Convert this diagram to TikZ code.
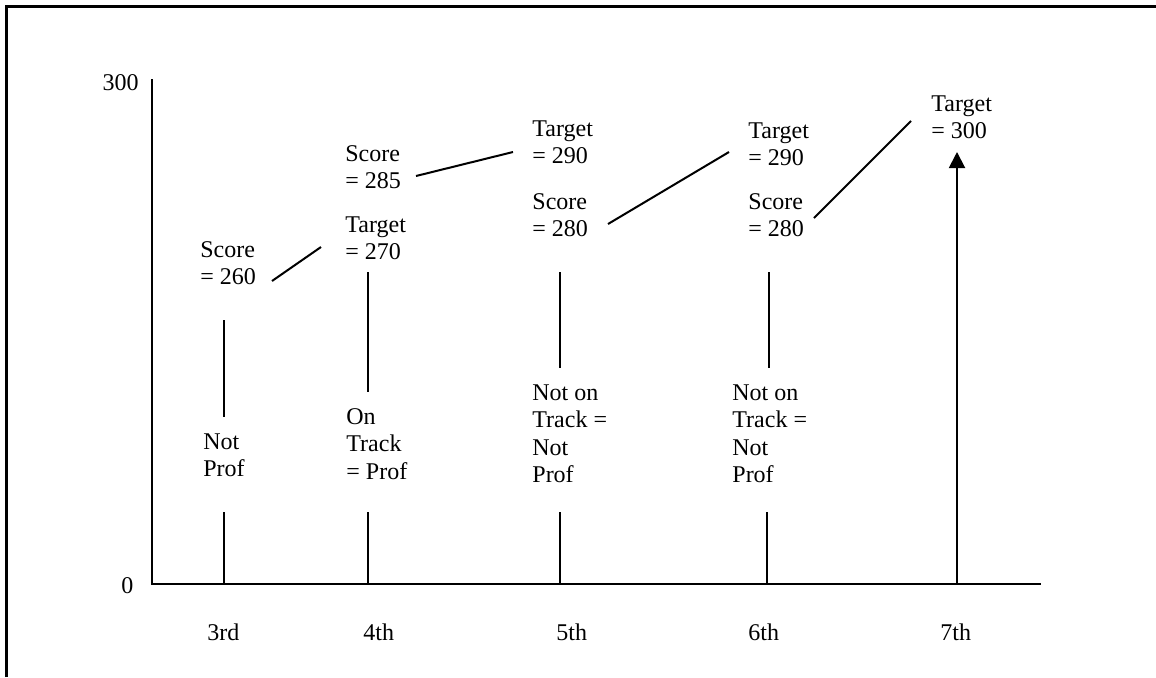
\documentclass[tikz,border=0pt]{standalone}
\usepackage{fontspec}
\setmainfont{Liberation Serif}
\usetikzlibrary{arrows.meta}
\tikzset{
  lbl/.style={anchor=north west, inner sep=0pt, align=left, font=\fontsize{12}{13.8}\selectfont},
  rlbl/.style={anchor=north east, inner sep=0pt, font=\fontsize{12}{13.8}\selectfont},
  ln/.style={line width=1pt, line cap=butt},
  frameline/.style={line width=1.1pt}
}
\begin{document}
\begin{tikzpicture}[x=0.5pt,y=-0.5pt]
\useasboundingbox (0,0) rectangle (1156,677);
% frame (top and left edges)
\draw[frameline] (6.5,677) -- (6.5,6.5) -- (1156,6.5);
% axes
\coordinate (ytop) at (152,79);
\coordinate (orig) at (152,584);
\coordinate (xend) at (1041,584);
\draw[ln] (ytop) -- (orig) -- (xend);
\node[rlbl] (l300) at (139,74) {300};
\node[lbl] (l0) at (121,577) {0};
% grade labels
\node[lbl] (g3) at (207,623) {3rd};
\node[lbl] (g4) at (363,623) {4th};
\node[lbl] (g5) at (556,623) {5th};
\node[lbl] (g6) at (748,623) {6th};
\node[lbl] (g7) at (940,623) {7th};
% value labels
\node[lbl] (s260) at (200,241) {Score\\= 260};
\node[lbl] (s285) at (345,145) {Score\\= 285};
\node[lbl] (t270) at (345,216) {Target\\= 270};
\node[lbl] (t290a) at (532,120) {Target\\= 290};
\node[lbl] (s280a) at (532,193) {Score\\= 280};
\node[lbl] (t290b) at (748,122) {Target\\= 290};
\node[lbl] (s280b) at (748,193) {Score\\= 280};
\node[lbl] (t300) at (931,95) {Target\\= 300};
% status labels
\node[lbl] (p3) at (203,433) {Not\\Prof};
\node[lbl] (p4) at (346,408) {On\\Track\\= Prof};
\node[lbl] (p5) at (532,384) {Not on\\Track =\\Not\\Prof};
\node[lbl] (p6) at (732,384) {Not on\\Track =\\Not\\Prof};
% vertical segments
\coordinate (a3) at (224,320); \coordinate (b3) at (224,417);
\coordinate (c3) at (224,512); \coordinate (d3) at (224,584);
\coordinate (a4) at (368,272); \coordinate (b4) at (368,392);
\coordinate (c4) at (368,512); \coordinate (d4) at (368,584);
\coordinate (a5) at (560,272); \coordinate (b5) at (560,368);
\coordinate (c5) at (560,512); \coordinate (d5) at (560,584);
\coordinate (a6) at (769,272); \coordinate (b6) at (769,368);
\coordinate (c6) at (767,512); \coordinate (d6) at (767,584);
\coordinate (a7) at (957,584); \coordinate (b7) at (957,152);
\draw[ln] (a3) -- (b3); \draw[ln] (c3) -- (d3);
\draw[ln] (a4) -- (b4); \draw[ln] (c4) -- (d4);
\draw[ln] (a5) -- (b5); \draw[ln] (c5) -- (d5);
\draw[ln] (a6) -- (b6); \draw[ln] (c6) -- (d6);
\draw[ln, -{Triangle[width=8pt,length=8pt]}] (a7) -- (b7);
% diagonal connectors
\coordinate (e1) at (272,281); \coordinate (f1) at (321,247);
\coordinate (e2) at (416,176); \coordinate (f2) at (513,152);
\coordinate (e3) at (608,224); \coordinate (f3) at (729,152);
\coordinate (e4) at (814,218); \coordinate (f4) at (911,121);
\draw[ln] (e1) -- (f1);
\draw[ln] (e2) -- (f2);
\draw[ln] (e3) -- (f3);
\draw[ln] (e4) -- (f4);
\end{tikzpicture}
\end{document}
